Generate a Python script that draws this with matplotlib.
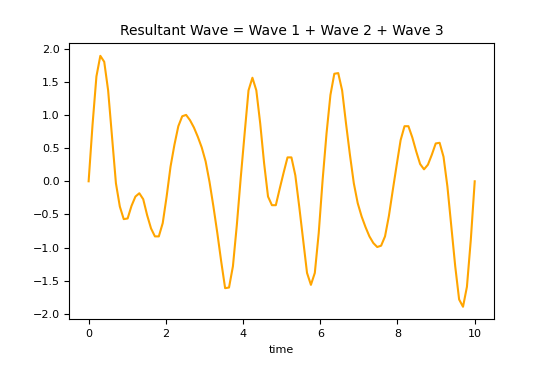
import numpy as np
import matplotlib
matplotlib.use("Agg")
import matplotlib.pyplot as plt

# sample times (evenly spaced over 0..10)
time = np.linspace(0, 10, 100)

# resultant amplitude
amplitude = [
    0.00, 0.85, 1.58, 1.89, 1.80, 1.37, 0.67, -0.03, -0.38, -0.57,
    -0.56, -0.37, -0.23, -0.18, -0.27, -0.51, -0.71, -0.83, -0.83, -0.63,
    -0.23, 0.22, 0.55, 0.83, 0.98, 1.00, 0.92, 0.81, 0.67, 0.51,
    0.30, -0.01, -0.38, -0.78, -1.21, -1.61, -1.60, -1.28, -0.66, 0.05,
    0.72, 1.37, 1.56, 1.37, 0.87, 0.27, -0.23, -0.36, -0.36, -0.11,
    0.13, 0.36, 0.36, 0.09, -0.38, -0.88, -1.38, -1.56, -1.38, -0.78,
    0.02, 0.72, 1.30, 1.62, 1.63, 1.37, 0.87, 0.40, -0.03, -0.33,
    -0.53, -0.69, -0.83, -0.93, -0.99, -0.97, -0.83, -0.52, -0.13, 0.25,
    0.62, 0.83, 0.83, 0.66, 0.45, 0.26, 0.18, 0.25, 0.40, 0.57,
    0.58, 0.37, -0.08, -0.68, -1.28, -1.78, -1.89, -1.59, -0.88, 0.00,
]

fig, ax = plt.subplots(figsize=(5.48, 3.65), dpi=100)
fig.subplots_adjust(left=0.1265, right=0.9015, top=0.8814, bottom=0.1252)

ax.plot(time, amplitude, color="orange", linewidth=1.5)
ax.set_title("Resultant Wave = Wave 1 + Wave 2 + Wave 3", fontsize=10)
ax.set_xlabel("time", fontsize=8)
ax.set_yticks([-2.0, -1.5, -1.0, -0.5, 0.0, 0.5, 1.0, 1.5, 2.0])
ax.tick_params(labelsize=8)

fig.savefig("out.png", dpi=100)
